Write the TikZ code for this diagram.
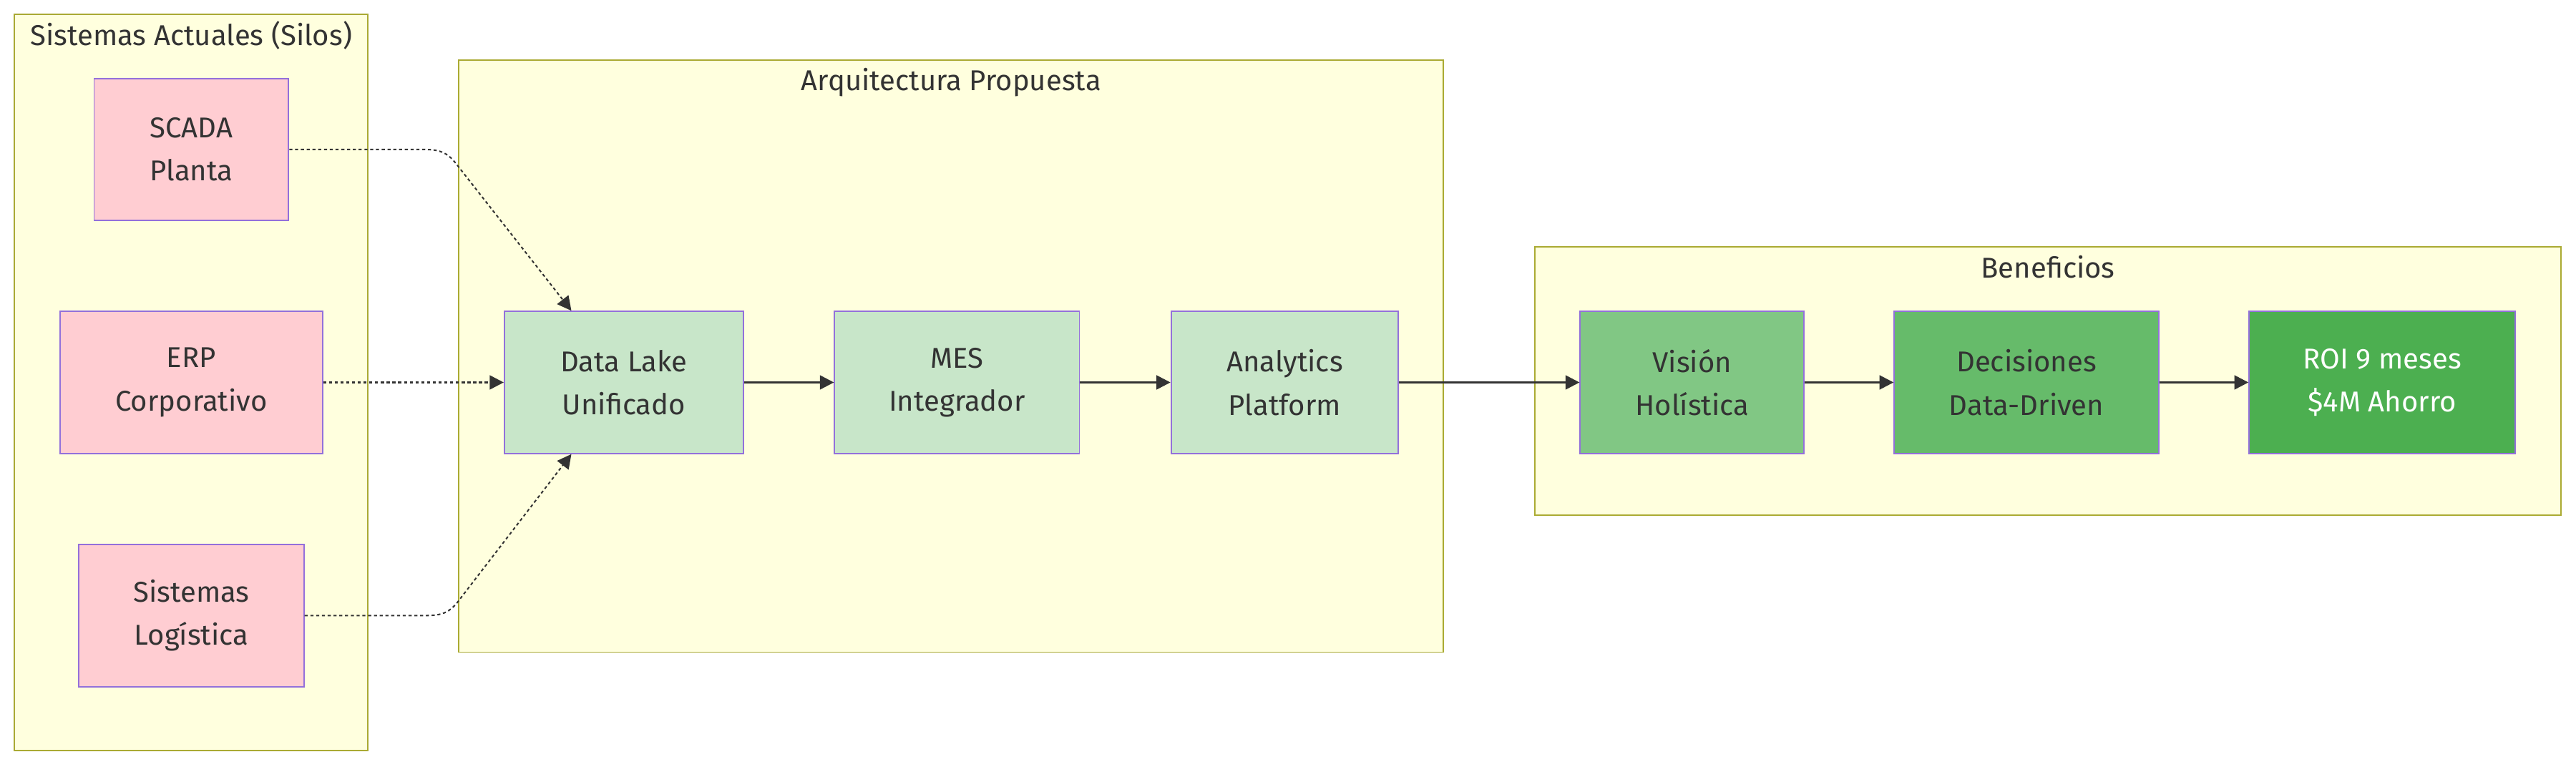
\documentclass[tikz,border=0pt]{standalone}
\usepackage{fontspec}
\setmainfont{Fira Sans}
\usetikzlibrary{arrows.meta,calc}
\definecolor{clusterfill}{HTML}{FFFFDE}
\definecolor{clusterline}{HTML}{AAAA33}
\definecolor{nodeline}{HTML}{9370DB}
\definecolor{silofill}{HTML}{FFCDD2}
\definecolor{archfill}{HTML}{C8E6C9}
\definecolor{benefA}{HTML}{81C784}
\definecolor{benefB}{HTML}{66BB6A}
\definecolor{benefC}{HTML}{4CAF50}
\definecolor{ink}{HTML}{333333}
\begin{document}
\begin{tikzpicture}[x=0.03cm, y=-0.03cm,
    every node/.style={font=\fontsize{14.9}{22.4}\selectfont, text=ink},
    cluster/.style={draw=clusterline, fill=clusterfill, line width=0.7pt},
    box/.style={draw=nodeline, line width=0.7pt, minimum height=2.595cm, inner sep=0pt, align=center},
    flow/.style={draw=ink, line width=0.75pt, -{Triangle[length=7.3pt,width=7.4pt]}},
    silo/.style={flow, dash pattern=on 1.6pt off 1.4pt}]
    \fill[white] (0,0) rectangle (1568,466.5);
    \useasboundingbox (0,0) rectangle (1568,466.5);
    % groups
    \draw[cluster] (8.7,8.7) rectangle (224,457);
    \node[anchor=base] (silostitle) at (116.4,27.7) {Sistemas Actuales (Silos)};
    \draw[cluster] (279.3,36.4) rectangle (878.6,397);
    \node[anchor=base] (archtitle) at (579,55.1) {Arquitectura Propuesta};
    \draw[cluster] (934.2,150.3) rectangle (1559,313.7);
    \node[anchor=base] (beneftitle) at (1246.6,169.4) {Beneficios};
    % current silos
    \node[box, fill=silofill, minimum width=3.552cm] (scada) at (116.5,91) {SCADA\\Planta};
    \node[box, fill=silofill, minimum width=4.785cm] (erp) at (116.5,232.8) {ERP\\Corporativo};
    \node[box, fill=silofill, minimum width=4.11cm] (logis) at (116.5,374.7) {Sistemas\\Logística};
    % proposed architecture
    \node[box, fill=archfill, minimum width=4.368cm] (lake) at (379.8,232.8) {Data Lake\\Unificado};
    \node[box, fill=archfill, minimum width=4.47cm] (mes) at (582.5,232.8) {MES\\Integrador};
    \node[box, fill=archfill, minimum width=4.149cm] (analytics) at (782,232.8) {Analytics\\Platform};
    % benefits
    \node[box, fill=benefA, minimum width=4.089cm] (vision) at (1030,232.8) {Visión\\Holística};
    \node[box, fill=benefB, minimum width=4.83cm] (decision) at (1233.5,232.8) {Decisiones\\Data-Driven};
    \node[box, fill=benefC, minimum width=4.86cm, text=white] (roi) at (1450,232.8) {ROI 9 meses\\\$4M Ahorro};
    % connectors
    \draw[silo] (scada.east) -- ++(82,0) .. controls +(10,0) and +(-5,-6) .. ++(19,8) -- ($(lake.north)+(-32,0)$);
    \draw[silo] (erp.east) -- (lake.west);
    \draw[silo] (logis.east) -- ++(74,0) .. controls +(10,0) and +(-5,6) .. ++(19,-8) -- ($(lake.south)+(-32,0)$);
    \draw[flow] (lake) -- (mes);
    \draw[flow] (mes) -- (analytics);
    \draw[flow] (analytics) -- (vision);
    \draw[flow] (vision) -- (decision);
    \draw[flow] (decision) -- (roi);
\end{tikzpicture}
\end{document}
